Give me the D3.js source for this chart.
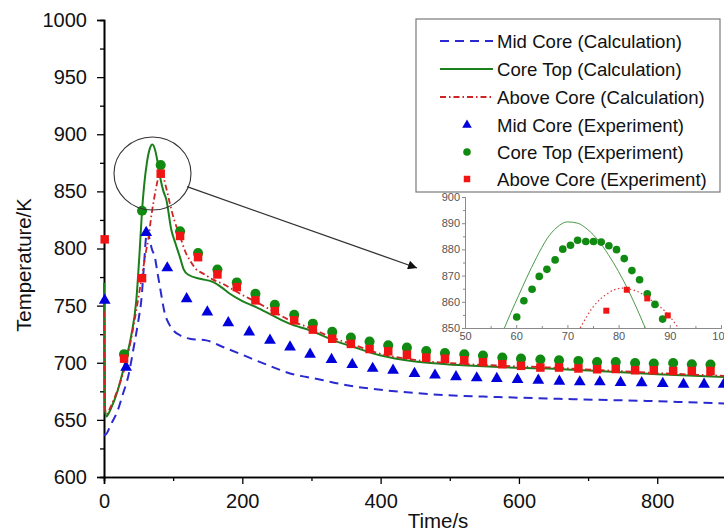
<!DOCTYPE html>
<html><head><meta charset="utf-8">
<script src="https://cdn.jsdelivr.net/npm/d3@7"></script>
<style>
body{margin:0;background:#fff;}
text{font-family:Arial,"Liberation Sans",sans-serif;}
</style>
</head><body>
<svg id="c" width="724" height="531"></svg>
<script>
// ---- data (time s, temperature K) ----
const midCoreCalc = [[0,637],[2,637],[10,646],[20,658.5],[27,672],[35,688],[44,717],[50,738],[54,755],[58,787],[61,811],[63,815],[66,808],[69,800],[73.7,792],[77,780],[81,766],[88,743],[94,734],[100,728.5],[110,724],[124,721],[148,719.6],[172,713.8],[196,708],[220,702],[245,696],[269,690.6],[293,687.5],[317,684.7],[341,681.5],[365,679],[404,676],[450,673.5],[495,671.6],[570,670],[640,668.7],[710,667.6],[784,666.6],[840,665.5],[900,664.3]];
const coreTopCalc = [[0,770],[1.2,660],[3.3,653],[10,660],[20,676],[30,699],[39,722.5],[46.7,754.6],[51.6,798],[55,833],[58,855],[62,875],[66,887],[70,891],[74,886],[78,874],[82,860],[86,850],[90,843],[97.5,816],[103,805],[110,792],[115,782],[122,777],[139,773.5],[158,770.6],[170,766],[182,760.4],[200,754],[220,748.7],[245,741],[269,734],[298,728.4],[330,720],[360,714],[399,706.5],[450,701],[519,697.8],[580,696],[640,695],[720,692.5],[800,690],[900,687.5]];
const aboveCoreCalc = [[0,745],[1.5,660],[3.5,655],[10,662],[20,677],[32.7,702],[45,740],[54.4,774],[60,795],[64,808],[68.8,830],[75,852],[79,863],[82.4,866],[86,862],[90,853],[95.4,839],[102,824],[109.7,811.3],[117,798],[124.4,789.5],[133,782],[143.6,778],[157,773],[172,769],[195,761],[220.5,753],[245,745],[269,737],[300,730],[330,722],[360,716],[399,708],[450,702.5],[519,699],[580,697.3],[640,696],[720,693.5],[800,691],[900,688.5]];
const midCoreExp = [[1,754.6],[32,696],[61,814],[91.5,783],[119.5,756],[149.4,744.4],[179.7,735],[210,726.9],[240,719.6],[269,713.8],[298,707.4],[329,702.8],[359,698.4],[388.5,695],[418,693.4],[449,690.6],[478.6,689.1],[509,687.6],[539,686.7],[568,686.2],[598,685.3],[628,684.7],[658.5,683.8],[688,683.2],[717,683.2],[747,682.7],[777.5,682.4],[808,681.8],[838,681.2],[867.7,681.2],[896,681]];
const coreTopExp = [[29,707.5],[55,833],[82,873],[110,815],[136,796],[164,781.6],[192,770.3],[219,760.4],[247,750.8],[275,742],[302,734.2],[330,727],[357,722],[384,718.5],[411,715.3],[438,713.2],[466,710.3],[493,708.5],[521,707.4],[548,706.3],[576,704.5],[603,703.6],[631,702.8],[658,702.2],[686,701.6],[713,700.7],[740,700.7],[768,699.8],[795,699.3],[823,699.8],[850,698.7],[877,698.4]];
const aboveCoreExp = [[1,808],[29,703.6],[55,774],[82,865.5],[110,811],[136,792.4],[164,777.3],[192,766.2],[219,754.6],[247,745.2],[275,737.1],[302,729],[330,721],[357,716.5],[384,712],[411,710],[438,707],[466,704.5],[493,703.5],[521,702.2],[548,700.5],[576,698.7],[603,697.3],[631,695.8],[658,695.8],[686,695],[713,694.3],[740,694.5],[768,693.4],[795,693.4],[823,692.8],[850,692.8],[877,692.8]];
// inset (zoom of the peak)
const insetCoreTopCalc = [[57.7,850],[59,856],[60.5,862.5],[62,869],[64,877],[66,884],[68,888.5],[70,890.5],[72,890],[74,887.5],[76,883.5],[78,878],[80,871.5],[82,864],[84,855.5],[85.2,850]];
const insetAboveCoreCalc = [[72.5,850],[75,858],[77.7,863],[80.6,865.2],[83.6,864],[86.8,860],[89.4,855.7],[91.5,850.5]];
const insetCoreTopExp = [[60.1,854.2],[61.5,860.4],[63.1,864.8],[64.5,869.7],[66.0,872.4],[67.6,876.0],[69.1,880.1],[70.6,881.6],[72.0,883.5],[73.6,883.0],[75.1,883.0],[76.6,882.8],[78.1,881.4],[79.6,879.9],[81.1,876.5],[82.6,871.9],[84.1,868.4],[85.6,863.0],[87.1,859.0],[88.6,853.4]];
const insetAboveCoreExp = [[77.6,856.6],[81.6,864.6],[85.6,861.3],[89.6,854.8]];
// ticks & labels
const xMajorTicks = [0,200,400,600,800];
const xMinorTicks = [100,300,500,700,900];
const yMajorTicks = [600,650,700,750,800,850,900,950,1000];
const yMinorTicks = [625,675,725,775,825,875,925,975];
const insetXTicks = [50,60,70,80,90,100];
const insetYTicks = [850,860,870,880,890,900];
const legendLabels = ["Mid Core (Calculation)","Core Top (Calculation)","Above Core (Calculation)","Mid Core (Experiment)","Core Top (Experiment)","Above Core (Experiment)"];
const xTitle = "Time/s", yTitle = "Temperature/K";

// ---- styles ----
const BLUE_L="#2a2ad0", BLUE_M="#0000dd";
const GREEN_L="#1b7f1b", GREEN_M="#118a11";
const RED_L="#cf2424", RED_M="#f01414";

const svg = d3.select("#c");
const x = d3.scaleLinear().domain([0,900]).range([104,726.4]);
const y = d3.scaleLinear().domain([600,1000]).range([477,20]);

// axes
const gy = svg.append("g").attr("transform","translate(104,0)");
gy.call(d3.axisLeft(y).tickValues(yMajorTicks).tickSize(7).tickPadding(10).tickFormat(d3.format("d")));
gy.append("g").call(d3.axisLeft(y).tickValues(yMinorTicks).tickSize(4).tickFormat(""));
const gx = svg.append("g").attr("transform","translate(0,477)");
gx.call(d3.axisBottom(x).tickValues(xMajorTicks).tickSize(7).tickPadding(10).tickFormat(d3.format("d")));
gx.append("g").call(d3.axisBottom(x).tickValues(xMinorTicks).tickSize(4).tickFormat(""));
svg.selectAll(".domain").attr("stroke","#000").attr("stroke-width",1.6);
svg.selectAll(".tick line").attr("stroke","#000").attr("stroke-width",1.3);
svg.selectAll(".tick text").attr("font-size",20).attr("fill","#111").attr("font-family","Arial, Liberation Sans, sans-serif");

svg.append("text").attr("x",438).attr("y",528).attr("text-anchor","middle").attr("font-size",20.5).attr("fill","#111").text(xTitle);
svg.append("text").attr("transform","translate(31,265) rotate(-90)").attr("text-anchor","middle").attr("font-size",20.4).attr("fill","#111").text(yTitle);

// lines
const line = d3.line().x(d=>x(d[0])).y(d=>y(d[1])).curve(d3.curveMonotoneX);
svg.append("path").datum(midCoreCalc).attr("d",line).attr("fill","none").attr("stroke",BLUE_L).attr("stroke-width",2).attr("stroke-dasharray","9,6");
svg.append("path").datum(coreTopCalc).attr("d",line).attr("fill","none").attr("stroke",GREEN_L).attr("stroke-width",2);
svg.append("path").datum(aboveCoreCalc).attr("d",line).attr("fill","none").attr("stroke",RED_L).attr("stroke-width",1.8).attr("stroke-dasharray","6,3,1.5,3");

// markers
const sym = (type,size)=>d3.symbol().type(type).size(size)();
svg.append("g").selectAll("path").data(midCoreExp).join("path")
  .attr("transform",d=>`translate(${x(d[0])},${y(d[1])})`).attr("d",sym(d3.symbolTriangle,60)).attr("fill",BLUE_M);
svg.append("g").selectAll("path").data(coreTopExp).join("path")
  .attr("transform",d=>`translate(${x(d[0])},${y(d[1])})`).attr("d",sym(d3.symbolCircle,80)).attr("fill",GREEN_M);
svg.append("g").selectAll("path").data(aboveCoreExp).join("path")
  .attr("transform",d=>`translate(${x(d[0])},${y(d[1])})`).attr("d",sym(d3.symbolSquare,72)).attr("fill",RED_M);

// ellipse + arrow
svg.append("ellipse").attr("cx",152.5).attr("cy",173.5).attr("rx",38.5).attr("ry",36.5).attr("fill","none").attr("stroke","#333").attr("stroke-width",1.1);
const defs = svg.append("defs");
defs.append("marker").attr("id","ah").attr("viewBox","0 0 10 10").attr("refX",10).attr("refY",5)
  .attr("markerWidth",14).attr("markerHeight",9).attr("markerUnits","userSpaceOnUse").attr("orient","auto")
  .append("path").attr("d","M0,0 L10,5 L0,10 z").attr("fill","#111");
svg.append("line").attr("x1",187).attr("y1",186.7).attr("x2",417).attr("y2",268).attr("stroke","#333").attr("stroke-width",1.3).attr("marker-end","url(#ah)");

// legend
const lg = svg.append("g");
lg.append("rect").attr("x",416).attr("y",19).attr("width",304).attr("height",173).attr("fill","#fff").attr("stroke","#7a7a7a").attr("stroke-width",1.2);
const rowsY = [41,69,97,125,152,179];
const lineStyles = [[BLUE_L,"9,6",2],[GREEN_L,null,2],[RED_L,"6,3,1.5,3",1.8]];
lineStyles.forEach((s,i)=>{
  const l = lg.append("line").attr("x1",440).attr("x2",493).attr("y1",rowsY[i]).attr("y2",rowsY[i]).attr("stroke",s[0]).attr("stroke-width",s[2]);
  if(s[1]) l.attr("stroke-dasharray",s[1]);
});
const legSyms = [[d3.symbolTriangle,40,BLUE_M],[d3.symbolCircle,45,GREEN_M],[d3.symbolSquare,42,RED_M]];
legSyms.forEach((s,i)=>{
  lg.append("path").attr("transform",`translate(467,${rowsY[i+3]})`).attr("d",sym(s[0],s[1])).attr("fill",s[2]);
});
lg.selectAll("text.lt").data(legendLabels).join("text").attr("class","lt")
  .attr("x",497).attr("y",(d,i)=>rowsY[i]).attr("dy","0.36em").attr("font-size",18.6).attr("fill","#111").text(d=>d);

// inset
const xi = d3.scaleLinear().domain([50,100]).range([465,721]);
const yi = d3.scaleLinear().domain([850,900]).range([328,197]);
const ig = svg.append("g");
ig.append("clipPath").attr("id","ic").append("rect").attr("x",465).attr("y",197).attr("width",259).attr("height",131);
const giy = ig.append("g").attr("transform","translate(465,0)");
giy.call(d3.axisLeft(yi).tickValues(insetYTicks).tickSize(3).tickPadding(2).tickFormat(d3.format("d")));
giy.append("g").call(d3.axisLeft(yi).tickValues([855,865,875,885,895]).tickSize(2).tickFormat(""));
const gix = ig.append("g").attr("transform","translate(0,328)");
gix.call(d3.axisBottom(xi).tickValues(insetXTicks).tickSize(-3).tickPadding(4).tickFormat(d3.format("d")));
gix.append("g").call(d3.axisBottom(xi).tickValues([55,65,75,85,95]).tickSize(-2).tickFormat(""));
ig.selectAll(".domain").attr("stroke","#8a8a8a").attr("stroke-width",1);
ig.selectAll(".tick line").attr("stroke","#8a8a8a").attr("stroke-width",1);
ig.selectAll(".tick text").attr("font-size",11).attr("fill","#555");
const iline = d3.line().x(d=>xi(d[0])).y(d=>yi(d[1])).curve(d3.curveMonotoneX);
ig.append("path").datum(insetCoreTopCalc).attr("d",iline).attr("clip-path","url(#ic)").attr("fill","none").attr("stroke","#4b9a4b").attr("stroke-width",1);
ig.append("path").datum(insetAboveCoreCalc).attr("d",iline).attr("clip-path","url(#ic)").attr("fill","none").attr("stroke","#d04040").attr("stroke-width",1.2).attr("stroke-dasharray","1.5,2.5");
ig.append("g").selectAll("path").data(insetCoreTopExp).join("path")
  .attr("transform",d=>`translate(${xi(d[0])},${yi(d[1])})`).attr("d",sym(d3.symbolCircle,46)).attr("fill",GREEN_M);
ig.append("g").selectAll("path").data(insetAboveCoreExp).join("path")
  .attr("transform",d=>`translate(${xi(d[0])},${yi(d[1])})`).attr("d",sym(d3.symbolSquare,36)).attr("fill",RED_M);
</script>
</body></html>
